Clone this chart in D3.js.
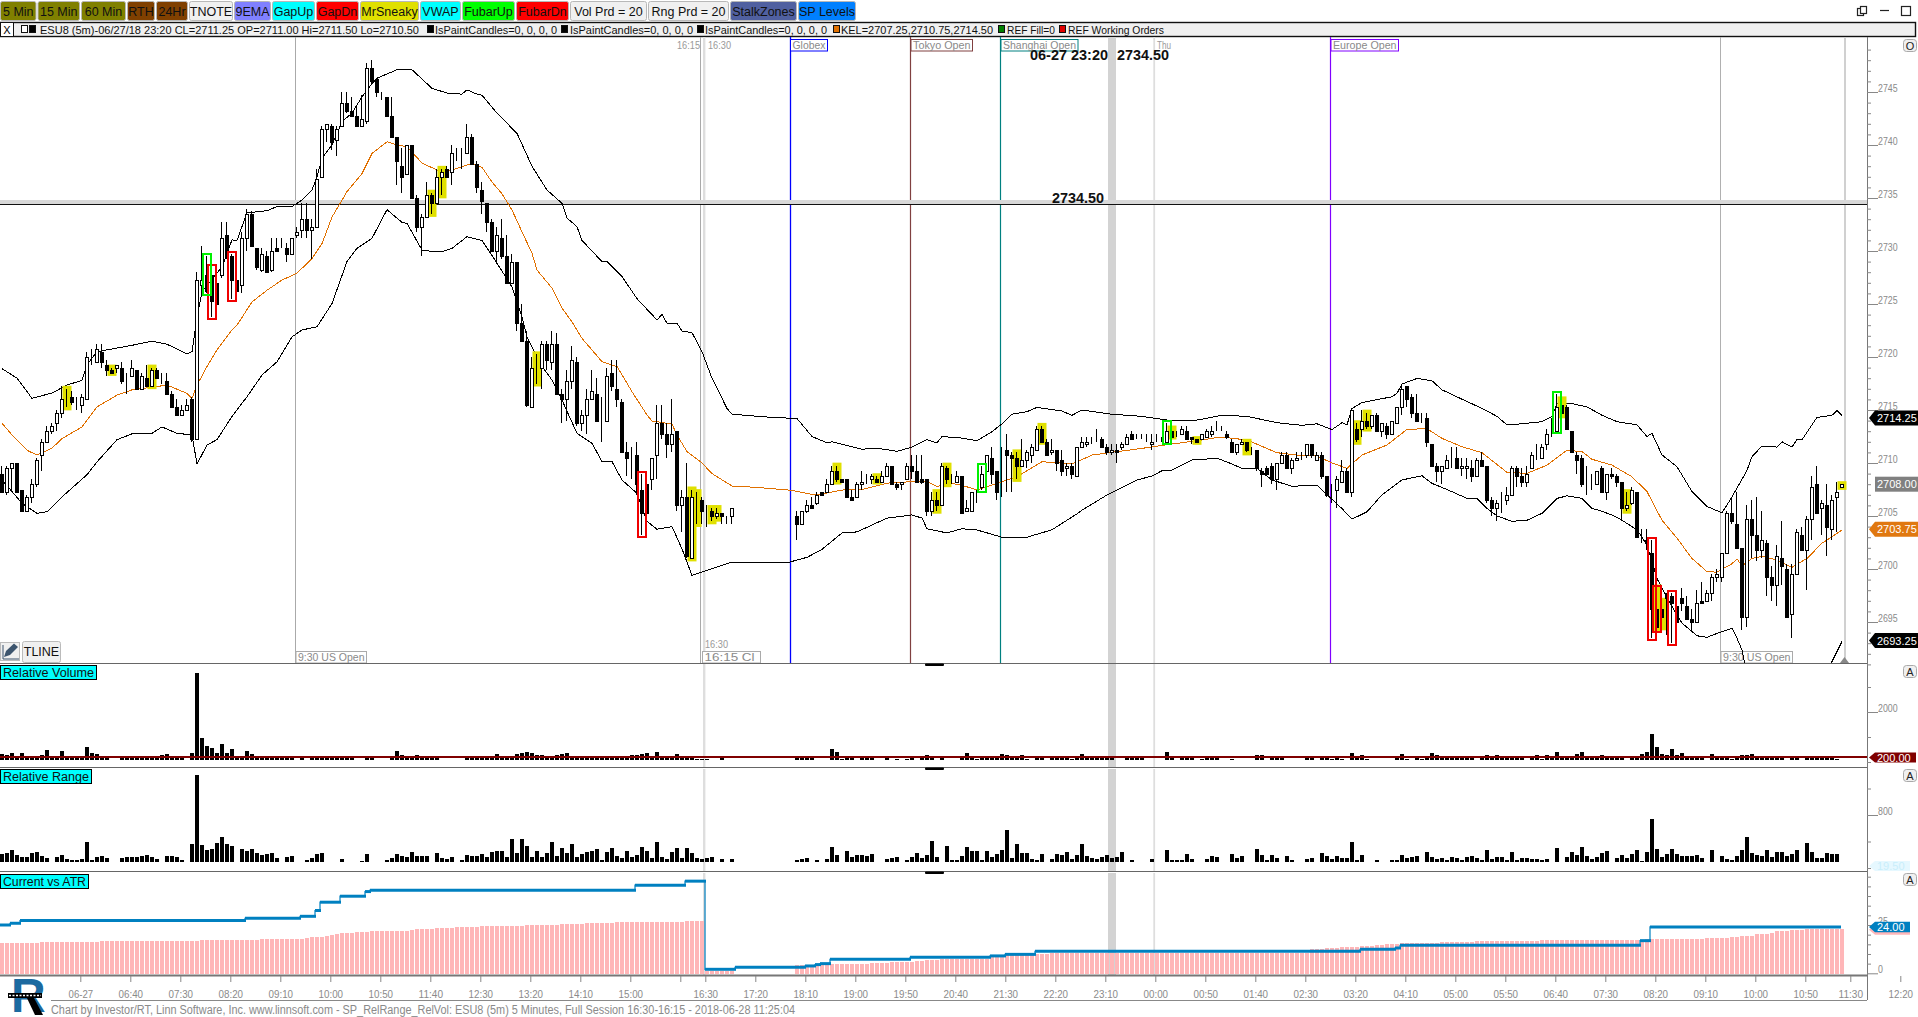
<!DOCTYPE html>
<html><head><meta charset="utf-8">
<script src="https://cdn.jsdelivr.net/npm/d3@7/dist/d3.min.js"></script>
<style>html,body{margin:0;padding:0;background:#fff;overflow:hidden}svg{position:absolute;left:0;top:0;display:block}text{font-family:"Liberation Sans",Arial,sans-serif}</style>
</head><body><svg id="c" width="1918" height="1017"></svg>
<script>
// ---------- DATA ----------
// [open, high, low, close] per 5 minute bar, null where no bar was traded
const candles=[
[2709,2709.75,2707.25,2707.25],[2707.25,2709.75,2707,2709.5],[2709.5,2710,2707.25,2710],[2710,2710,2707.25,2707.25],[2707.5,2707.5,2705.5,2705.5],[2705.5,2707,2705.5,2706.75],[2706.75,2708.5,2706.25,2708],[2708,2710.5,2707.75,2710.25],[2710.75,2712.25,2709.25,2712],[2712,2713.5,2712,2713],
[2713,2713.75,2712.75,2713.5],[2713.75,2715,2713,2714.75],[2714.75,2717.25,2714.25,2716],[2716,2717,2715.25,2716],[2716.25,2716.75,2715.5,2715.75],[2715.5,2716.25,2715,2715.5],[2715.5,2716.5,2714.75,2716.25],[2716,2720.5,2716,2720],[2719.75,2720.75,2719.25,2719.75],[2719.5,2721.25,2719.5,2720.75],
[2720.5,2721.25,2719,2719.5],[2719.25,2719.75,2718.25,2718.75],[2718.75,2719,2718.5,2718.5],[2719,2719.25,2718.5,2719.25],[2719,2719.5,2717.5,2717.75],[2718,2718.5,2716.5,2718],[2718.25,2719.75,2718.25,2719],[2718.75,2718.75,2717,2717],[2717,2718.5,2717,2718.25],[2718,2719.25,2717.25,2717.25],
[2717.25,2719,2717.25,2718.75],[2718.75,2719,2718,2718],[2718,2718.5,2717.5,2718],[2717.75,2718.5,2716.5,2716.5],[2716.5,2716.75,2715.25,2715.25],[2715.25,2716,2714.5,2714.5],[2714.5,2715.5,2714.5,2715],[2715,2716,2715,2715.5],[2716,2716.25,2712,2712.25],[2712.25,2728,2712.25,2727.25],
[2726.75,2730.5,2726,2727.25],[2727.75,2729.5,2726,2726.25],[2727.75,2728.5,2723.75,2725.25],[2727,2728.5,2723.75,2725],[2727.75,2732.75,2727.5,2731.25],[2731.5,2732.75,2729.25,2729.5],[2729.5,2729.75,2725.5,2727.25],[2727.25,2728.5,2725.5,2726.25],[2726.75,2731.75,2726,2731.25],[2731.25,2734,2730,2733.5],
[2733.5,2733.75,2730.5,2730.5],[2730.25,2730.25,2728.25,2728.5],[2728.25,2730.25,2728,2729.75],[2729.5,2730,2728,2728],[2728.25,2731.25,2728,2730],[2730.25,2731.25,2730,2730],[2730.5,2731.25,2730.25,2730.5],[2730.25,2730.75,2729,2729.75],[2729.75,2731.25,2729.75,2731.25],[2731.5,2732.25,2731.25,2731.75],
[2732,2734.5,2731.25,2733],[2733,2734.5,2731.25,2732],[2732,2733,2729.25,2732.25],[2732.25,2737.75,2732.25,2736.75],[2737,2741.75,2737,2741.5],[2741.5,2742,2740.25,2742],[2741.75,2742,2739.5,2740.25],[2740.5,2741.75,2739,2741.5],[2741.75,2745,2741.75,2744],[2744,2745,2743,2743.25],
[2743.25,2744.5,2742.75,2742.75],[2742.75,2743.75,2741.75,2741.75],[2741.75,2744.75,2741.75,2742.5],[2742.25,2747.75,2742,2747.25],[2747.25,2748,2745.75,2746],[2746.25,2746.25,2744.5,2745],[2744.75,2745,2744.25,2744.75],[2744.5,2744.5,2742.75,2742.75],[2742.75,2744.5,2740.75,2740.75],[2740.75,2740.75,2736.25,2738.5],
[2738,2739.75,2735.5,2737],[2737.25,2740,2737.25,2740],[2740,2740,2735,2735],[2735,2735.25,2731.75,2732.25],[2732.25,2733.5,2729.5,2733.25],[2733.25,2736.5,2733.25,2735.25],[2735.25,2735.5,2733.5,2734.5],[2734.5,2737.75,2734.5,2737],[2737,2737.75,2735.25,2737.5],[2737.75,2738,2737,2737],
[2737.5,2740,2736.25,2739.25],[2739.25,2739.75,2738.5,2739.25],[2739.25,2739.75,2737.75,2739.25],[2739.25,2742,2739.25,2740.75],[2740.75,2741,2738.25,2738.25],[2738.25,2738.5,2735.5,2736],[2735.75,2736.5,2733.5,2734.75],[2734.5,2734.5,2731.75,2732.75],[2732.75,2733,2730,2730],[2730,2732.25,2728.75,2731.5],
[2731.25,2733,2729.25,2729.5],[2729.5,2731.5,2727,2727],[2727,2729.75,2727,2729],[2729,2729,2722.5,2723.25],[2723.25,2725,2721.5,2721.5],[2721.5,2722.5,2715.25,2715.5],[2715.25,2720,2715.25,2719],[2719.25,2720.25,2717.5,2719.25],[2719,2721.5,2717,2721.25],[2721.25,2721.5,2718.75,2719.75],
[2719.5,2722.5,2718.75,2721.25],[2721.25,2722.25,2716.5,2716.5],[2716.5,2717,2713.75,2716],[2716,2718.75,2714,2717.75],[2717.75,2721,2717,2719.75],[2719.5,2720,2713.5,2713.75],[2713.75,2715,2713,2714.5],[2714.5,2717,2712.75,2716],[2716,2718.75,2716,2716.75],[2716.5,2718,2714,2714],
[2713.75,2716.25,2712,2713.75],[2714,2719,2714,2718.25],[2718.5,2719.75,2716.75,2717.25],[2717,2719.75,2715.25,2716],[2715.75,2716,2711,2711],[2711,2712,2708.75,2710.5],[2710.5,2711.5,2708.5,2710.5],[2710.75,2712,2707,2708],[2707.5,2709,2703.25,2705.25],[2708,2708.5,2703.25,2705.25],
[2708.5,2710.5,2707.5,2710.5],[2710.75,2715.5,2708.5,2713.75],[2713.75,2715.5,2712.25,2712.75],[2712.75,2713.75,2710.5,2711.75],[2711.75,2716,2711,2712.75],[2713,2713,2705.5,2706],[2706,2707.5,2703.5,2706.75],[2706.75,2710,2701,2701.25],[2701,2707.5,2701,2706.75],[2707,2707.25,2704.25,2707],
[2706.5,2706.75,2704.25,2705.5],[2705.5,2706,2704,2705.5],[2705.5,2705.75,2704.5,2705],[2705,2705.75,2704.75,2705.25],[2705.25,2705.25,2704.25,2705],[2705,2705,2704.25,2705],[2705,2705.75,2704.25,2705.75],null,null,null,
null,null,null,null,null,null,null,null,null,[2705,2705.5,2702.75,2704.25],
[2704.25,2705.5,2704.25,2705.5],[2705.5,2706.5,2705.25,2706],[2706,2706.75,2705.75,2705.75],[2706.25,2707.25,2706,2707],[2707.25,2707.25,2707,2707],[2707.25,2708.5,2707.25,2708],[2708,2709.75,2708,2709.25],[2709.25,2709.75,2708.25,2708.5],[2708.5,2708.5,2708.25,2708.25],[2708.5,2708.5,2706.75,2706.75],
[2706.75,2707.5,2706.5,2706.5],[2706.75,2708.25,2706.75,2708],[2708,2709.25,2707.5,2708.25],[2708.5,2709,2708,2708.5],[2708.5,2709,2708,2708.75],[2708.5,2708.75,2708.25,2708.25],[2708.25,2709.25,2708.25,2708.75],[2708.75,2710,2708.75,2709.75],[2709.75,2709.75,2708,2708],[2708,2708.25,2707.5,2707.75],
[2708,2708.25,2707.5,2708.25],[2708.5,2710,2708.5,2709.75],[2709.75,2710.75,2708.5,2709.25],[2709.25,2710.75,2708.25,2708.25],[2708.5,2710.75,2708,2708.25],[2708.5,2708.5,2705,2705.5],[2705.5,2707.25,2705,2706.5],[2706.5,2707.25,2705.5,2706],[2706,2710,2706,2709.75],[2709.5,2709.75,2708,2708.5],
[2708.5,2709,2708,2708.5],[2708.25,2709.25,2708.25,2708.75],[2708.75,2708.75,2705.25,2705.25],[2705.5,2706.5,2705.5,2705.75],[2705.5,2707.25,2705.5,2707.25],[2707.5,2707.5,2706.25,2707.5],[2707.75,2709.75,2707.5,2709],[2709.25,2710.75,2708,2710.75],[2710.5,2711.5,2708,2709],[2709.25,2709.25,2706.5,2707.25],
[2711,2711.5,2706.75,2711],[2711.25,2712.75,2707.25,2710.75],[2710.75,2711,2707.25,2710.5],[2710.5,2711,2708.5,2709.75],[2709.75,2712.25,2709.75,2710.25],[2710.25,2711.25,2709.5,2711],[2710.75,2711.75,2710,2711.5],[2711.25,2713.5,2711.25,2713.25],[2713.25,2713.5,2712,2712],[2712,2712.25,2710.75,2710.75],
[2711,2712.25,2710.75,2711.25],[2711.25,2711.25,2709.25,2710],[2710.25,2711.25,2708.75,2709.25],[2709.5,2710,2708.75,2709.75],[2709.75,2710,2708.5,2709],[2708.75,2711.5,2708.75,2711.5],[2711.5,2712.5,2711.5,2712],[2711.75,2712.5,2711.5,2712],[2712,2712.5,2711.75,2712],[2712.25,2713.25,2712,2712.25],
[2712.25,2712.5,2711.5,2711.5],[2711.5,2711.75,2710.75,2711],[2711,2711.75,2710.75,2711.25],[2711.25,2711.75,2710,2711],[2711.5,2712,2711.25,2711.75],[2711.75,2712.75,2711.75,2712.5],[2712.75,2713,2712.25,2712.25],[2712.25,2712.75,2712.25,2712.25],[2712.25,2712.75,2712.25,2712.25],[2712.25,2712.75,2712,2712.25],
[2711.75,2712.75,2711.25,2712],[2712.25,2712.75,2712,2712.25],[2712.25,2712.5,2712,2712.25],[2712,2713.75,2712,2713],[2713,2713.25,2712.5,2712.5],[2712.75,2713,2712.5,2712.75],[2712.75,2713.5,2712.75,2713.25],[2713,2713.5,2712.25,2712.25],[2712.5,2712.5,2711.75,2712.25],[2712.25,2712.25,2712,2712],
[2712.25,2712.75,2712.25,2712.75],[2712.5,2713.25,2712.5,2713],[2712.75,2713.5,2712.5,2713],[2713.25,2714,2713,2713.25],[2713.25,2713.5,2713,2713.25],[2712.75,2713,2712.25,2712.5],[2712,2712.25,2711,2711],[2711,2711.75,2710.75,2711.75],[2711.75,2712.25,2711.75,2712],[2712,2712,2711,2711.25],
[2711,2711.5,2710.75,2711],[2711.25,2711.25,2709.25,2709.5],[2709.25,2709.5,2707.75,2709],[2709.5,2709.75,2708.75,2709],[2709.75,2710,2708,2708.5],[2708.5,2710,2707.5,2710],[2710,2711,2710,2710.75],[2710.75,2711,2709.5,2709.5],[2709.5,2710.5,2709,2710.25],[2710.25,2711,2710.25,2710.5],
[2710.75,2711,2710.25,2710.75],[2710.75,2711.75,2710.5,2711.75],[2711.75,2711.75,2710.5,2710.75],[2710.25,2711,2710.25,2710.75],[2710.75,2711,2708.5,2708.75],[2708.75,2708.75,2706.75,2707],[2707.5,2708,2706.25,2707.5],[2707.5,2708.75,2705.75,2708.5],[2708.25,2710.25,2708.25,2709.25],[2709.25,2709.5,2707.25,2707.25],
[2707.25,2715,2706.75,2715],[2713.25,2713.75,2712,2712.25],[2713.25,2715,2712.5,2714],[2714,2714.75,2713.25,2713.5],[2713.5,2714.5,2713.25,2714.5],[2714.5,2714.75,2713,2713],[2713,2713.75,2712.5,2713.75],[2713.5,2713.75,2712.25,2712.75],[2712.75,2714,2712.75,2714],[2713.75,2715.25,2713.75,2715.25],
[2715.25,2717.5,2714.5,2717],[2717.25,2717.25,2715.25,2716],[2716.25,2716.5,2714.25,2714.75],[2714.75,2716.5,2714,2714],[2714,2714.75,2713.75,2714],[2714.25,2714.75,2711.5,2712],[2711.75,2711.75,2709.75,2709.75],[2709.75,2710,2708.25,2709.25],[2709.25,2709.75,2708,2709.75],[2709.5,2710.75,2709.5,2710.25],
[2710.5,2711.5,2709.5,2710.5],[2710.5,2711.5,2709.5,2709.5],[2709.5,2710.5,2708.75,2709.75],[2709.5,2710.5,2708.5,2709.75],[2709.5,2710.25,2708.25,2708.75],[2708.75,2710.5,2708.75,2710.25],[2710.25,2711,2709.75,2709.75],[2709.75,2709.75,2706.25,2706.5],[2706.5,2706.75,2705,2705.75],[2705.75,2706.5,2704.5,2706.25],
[2706.5,2707.25,2705.25,2706.5],[2706.5,2707.75,2706,2707],[2707,2709.75,2707,2709.5],[2709.5,2709.75,2707.75,2708.75],[2708.75,2709.5,2707.75,2708.25],[2708.25,2709.75,2707.75,2709],[2709.5,2711,2709.5,2710.75],[2710.5,2711.75,2710.25,2710.5],[2710.5,2711.75,2710.5,2711.5],[2711.75,2713.25,2711.25,2712.75],
[2714,2714.25,2712.5,2714],[2713,2716.5,2713,2715.25],[2715.5,2716,2714.5,2714.75],[2715.25,2715.5,2713.25,2713.25],[2713,2713,2711,2711],[2710.75,2711,2709,2710.25],[2710.5,2710.75,2707.75,2708],[2708.25,2709.75,2707,2708.25],[2708.25,2709,2707.5,2708.25],[2708,2709.25,2708,2709.25],
[2709.5,2709.75,2707.25,2707.25],[2707.25,2709,2706.5,2709],[2709,2709.5,2708.5,2708.75],[2708.75,2709,2707.75,2708.25],[2708.25,2708.25,2704.75,2705.75],[2705.75,2707.25,2705.5,2706],[2706.25,2707.75,2706,2707.5],[2707.25,2707.25,2703,2703],[2702.75,2703.75,2702.5,2702.75],[2702.75,2703.75,2701.75,2702.5],
[2701.5,2702.75,2693.5,2696.25],[2696.25,2698.25,2694.25,2694.5],[2696.25,2697,2694.5,2695.5],[2697.5,2697.75,2693.75,2697.25],[2697.5,2697.75,2693,2696.75],[2696.5,2697.75,2695,2695],[2697.25,2698.25,2696,2696.75],[2696.5,2697.5,2695.25,2695.25],[2695.25,2696.25,2694.25,2695],[2695,2698,2695,2696.75],
[2697,2698.75,2696.75,2696.75],[2697,2698,2697,2697.75],[2697.75,2699.5,2697,2699.25],[2699.25,2700,2698.75,2699.5],[2699.25,2701.5,2698.75,2701.5],[2701.5,2705.5,2701.5,2705.25],[2705.25,2706.75,2704.25,2704.5],[2704.25,2707.25,2702,2702],[2702,2702,2694.25,2695.5],[2695.5,2706,2694.5,2704.75],
[2704.75,2706.5,2701,2703.25],[2703.25,2706.75,2700.75,2701.75],[2701.75,2705.5,2701,2702.75],[2702.5,2702.75,2697.5,2699.25],[2699.25,2700.25,2697,2698.5],[2698.5,2702.25,2696.5,2701.25],[2701,2704.5,2698.5,2700.25],[2700,2700.5,2695.5,2695.5],[2695.75,2700.5,2693.5,2699.5],[2699.5,2703.75,2699.5,2703.5],
[2703.25,2704,2701.75,2701.75],[2701.75,2705,2698,2704.75],[2704.75,2708.75,2702.75,2707.75],[2708,2709.75,2705.25,2705.25],[2705.75,2706.5,2703.25,2706.25],[2706,2708,2701.25,2704],[2703.75,2707,2702.75,2706.5],[2706.75,2708.25,2703.5,2707.25],[2707.75,2708,2707.75,2708]
];
const yellowBars=[13,22,30,86,88,107,138,139,142,143,167,175,187,189,203,208,234,239,249,271,273,312,325,331,332,368];
const redBars=[42,46,128,330,331,334];
const greenBars=[41,196,233,311];
// [bar, price] vertices
const upperBand=[[0,2718.9],[3,2718],[6,2716.1],[10,2716.6],[13,2717.35],[16,2717.8],[17,2719.25],[19,2720.5],[26,2721.1],[30,2721.5],[33,2721.2],[37,2720.3],[38,2720.5],[39,2723.8],[40,2726.15],[44,2728.5],[46,2731.05],[47,2731],[49,2733.6],[53,2733.8],[55,2734.2],[58,2734.2],[60,2734.8],[62,2735.75],[63,2737],[64,2738.75],[66,2740],[68,2742.2],[70,2743],[72,2744.55],[74,2745.8],[75,2746.3],[79,2747.1],[82,2747.1],[86,2745.35],[89,2744.9],[92,2744.8],[93,2745.2],[95,2744.8],[96,2744.7],[99,2743],[103,2741.1],[106,2738],[109,2735.75],[112,2734.5],[113,2733.1],[115,2732.3],[116,2731],[120,2729],[121,2729],[124,2727.6],[127,2725.5],[131,2723.5],[132,2724],[133,2723.2],[135,2723.2],[136,2722.45],[138,2722.3],[140,2720.5],[142,2718],[145,2715.15],[146,2714.6],[154,2714.3],[159,2714.2],[162,2712.5],[165,2711.9],[166,2712],[172,2711.3],[175,2711.4],[179,2711.1],[182,2711.5],[185,2712.2],[187,2711.9],[188,2712.5],[192,2712.35],[195,2712.1],[198,2712.95],[200,2713.7],[202,2714.6],[205,2714.84],[207,2715.25],[212,2714.9],[214,2714.5],[216,2715],[222,2714.6],[228,2714.4],[233,2714.05],[239,2714.05],[244,2714.5],[249,2714.4],[255,2713.8],[260,2713.55],[263,2713.7],[266,2713.15],[268,2713.8],[269,2713.6],[270,2715.15],[272,2715.7],[278,2716.25],[279,2716.57],[280,2717.45],[283,2717.98],[286,2717.76],[288,2716.9],[293,2715.8],[296,2715.15],[299,2714.4],[301,2713.6],[304,2713.7],[308,2713.9],[310,2714.4],[311,2715.6],[314,2715.6],[317,2715.3],[320,2714.5],[323,2713.9],[327,2713.6],[329,2712.5],[330,2712.8],[332,2710.76],[335,2709.65],[338,2707.3],[341,2705.9],[344,2705.3],[346,2706.8],[349,2709.3],[350,2710.6],[352,2711.6],[355,2711.5],[356,2712],[358,2711.5],[359,2712.2],[360,2712.2],[363,2714.3],[366,2714.5],[367,2714.94],[368,2714.5]];
const lowerBand=[[0,2708.4],[2,2707.3],[4,2706.2],[7,2705.25],[9,2705.4],[12,2706.8],[17,2708.9],[19,2710.1],[23,2712.2],[26,2712.75],[30,2712.8],[32,2713.4],[35,2712.8],[38,2712.65],[39,2709.9],[41,2711.7],[43,2712.2],[46,2714.4],[49,2716.25],[52,2718.3],[55,2719.55],[58,2721.9],[60,2722.55],[63,2722.85],[66,2725.05],[69,2729],[71,2730.25],[74,2731.2],[77,2733.9],[80,2732.7],[81,2732.6],[84,2730.1],[86,2729.95],[88,2729.95],[90,2730.25],[93,2731.35],[96,2731],[99,2728.85],[102,2726.6],[104,2723.8],[105,2721.9],[108,2719.1],[110,2717.83],[112,2715.94],[115,2712.8],[118,2711.86],[120,2710.13],[122,2710.13],[124,2708.4],[127,2707.14],[129,2704.5],[131,2703.75],[134,2704],[136,2701.9],[138,2699.4],[146,2700.66],[157,2700.57],[159,2700.85],[161,2701.1],[164,2701.85],[168,2703.4],[171,2703.5],[177,2704.8],[182,2705.1],[184,2704.8],[185,2703.8],[189,2703.4],[192,2703.8],[195,2703.68],[200,2703],[205,2703],[210,2703.7],[215,2705.2],[216,2705.56],[221,2706.98],[227,2708.4],[230,2708.77],[232,2709.27],[234,2709.34],[238,2710.28],[243,2710.44],[245,2710.1],[248,2709.5],[251,2709.5],[254,2708.4],[256,2708.1],[258,2707.8],[260,2707.85],[263,2707.9],[266,2706.57],[268,2705.7],[270,2704.7],[273,2705.4],[276,2707],[280,2708.4],[284,2708.8],[286,2708.08],[289,2707.5],[293,2706.66],[295,2706.66],[297,2705.72],[299,2705],[302,2704.5],[305,2704.6],[308,2705.25],[311,2706.66],[313,2706.9],[316,2706.66],[318,2705.7],[319,2705.6],[322,2705.1],[324,2704.6],[327,2703.7],[329,2702.27],[331,2699.1],[334,2696.45],[336,2694.9],[339,2693.7],[341,2693.56],[344,2694.1],[346,2694.4],[347,2693.46],[348,2692.36],[349,2690],[350,2689],[362,2689],[365,2690.5],[366,2691.26],[368,2693.15]];
const emaLine=[[0,2713.75],[2,2712.65],[5,2711.2],[7,2710.75],[10,2711.4],[12,2712.3],[16,2713.4],[19,2715.3],[23,2716.4],[26,2716.9],[30,2717.15],[33,2717.35],[37,2716.57],[38,2716.1],[39,2717.35],[41,2719.1],[43,2720.66],[46,2722.55],[47,2723],[50,2725.2],[53,2726.3],[56,2727.26],[59,2727.9],[62,2729.3],[64,2730.7],[66,2733.2],[69,2735.6],[72,2737.3],[74,2739.2],[77,2740.3],[79,2740],[81,2739.84],[84,2738.3],[87,2737.64],[90,2737.64],[94,2738.27],[96,2737.9],[98,2736.5],[100,2735.4],[102,2733.87],[104,2731.8],[106,2729.8],[107,2728.2],[110,2726.5],[112,2724.6],[114,2723.33],[116,2721.76],[118,2720.66],[120,2719.56],[123,2719.1],[126,2716.73],[129,2714.53],[130,2713.96],[134,2713.68],[135,2712.64],[137,2711.07],[140,2710],[142,2709],[146,2707.83],[151,2707.7],[158,2707.42],[162,2707.04],[164,2707.07],[168,2707.45],[172,2707.5],[177,2708.1],[182,2708.24],[185,2708.24],[187,2707.8],[190,2708.08],[192,2707.9],[195,2707.45],[199,2708.08],[203,2708.7],[208,2710.12],[212,2710],[214,2709.9],[218,2710.75],[223,2711.07],[228,2711.38],[234,2711.79],[239,2712.1],[243,2712.4],[245,2712.39],[249,2712.17],[255,2710.97],[260,2710.7],[263,2710.66],[266,2710],[269,2709.5],[272,2710.75],[277,2711.7],[281,2713.17],[285,2713.24],[288,2712.32],[292,2711.54],[296,2710.97],[301,2709.12],[305,2709.02],[309,2709.8],[313,2711.2],[316,2711.07],[318,2710.35],[322,2709.8],[326,2708.7],[329,2707.3],[332,2704.6],[335,2702.9],[338,2701],[341,2699.75],[343,2699.7],[346,2700.5],[347,2700.95],[348,2700.3],[350,2701],[352,2701.2],[355,2700.85],[358,2700.16],[361,2701],[364,2702.43],[368,2703.68]];
const relVolume=[
317,291,344,212,344,212,212,212,278,463,
212,212,423,212,212,212,212,595,344,304,
212,212,0,0,212,212,212,185,212,212,
212,212,278,317,212,145,145,0,344,3571,
952,635,556,344,714,370,516,212,212,423,
304,212,212,212,212,212,185,212,145,0,
145,0,145,145,212,212,145,212,145,185,
145,0,0,185,145,0,0,0,212,437,
278,212,212,265,212,212,185,212,0,0,
0,0,0,145,185,212,212,212,212,304,
212,212,212,304,370,384,370,278,278,212,
212,278,317,344,212,212,185,212,212,212,
212,212,185,212,212,212,265,265,317,357,
212,397,212,212,212,317,212,212,212,132,
132,132,0,0,212,0,0,0,0,0,
0,0,0,0,0,0,0,0,0,212,
212,212,212,0,0,0,516,410,132,212,
212,0,145,145,185,0,0,212,0,132,
0,132,185,0,212,278,212,0,212,0,
0,0,212,357,212,132,212,212,212,212,
317,278,212,212,278,119,0,185,185,0,
212,212,212,212,132,212,317,212,212,212,
145,145,185,0,0,185,185,185,145,0,
0,0,0,397,185,0,212,212,212,0,
132,185,185,185,0,0,119,0,0,0,
0,278,278,0,212,212,212,0,0,0,
0,212,212,0,212,212,132,212,132,0,
357,238,278,132,0,0,0,0,0,185,
317,119,0,185,132,212,357,278,212,212,
212,212,145,212,145,0,212,278,212,278,
212,212,212,145,212,0,212,278,132,278,
212,397,212,212,212,317,397,212,212,212,
265,185,145,145,145,0,185,212,304,384,
1111,595,317,278,516,278,344,185,185,185,
185,0,317,212,212,185,132,185,278,278,
317,185,185,185,185,185,185,0,185,185,
0,185,185,185,145,185,185,132,0];
const relRange=[
205,220,270,195,170,170,220,235,180,145,
0,170,195,135,120,120,135,390,120,170,
180,145,0,0,145,160,160,170,180,195,
160,130,0,180,180,160,120,0,360,1398,
345,270,285,380,465,360,330,0,285,260,
285,220,195,205,220,145,0,160,180,0,
0,120,145,205,220,0,0,0,135,0,
0,0,105,210,0,0,0,120,145,210,
180,170,235,185,180,180,0,220,145,135,
160,0,120,195,185,180,205,170,245,255,
255,170,445,220,435,330,170,255,160,220,
390,180,295,220,355,160,210,240,255,280,
120,245,295,185,145,255,170,195,315,255,
150,390,165,135,240,300,150,300,225,150,
135,150,160,0,135,0,135,0,0,0,
0,0,0,0,0,0,0,0,0,120,
135,150,0,120,0,135,315,195,0,255,
165,195,195,180,210,0,0,135,150,165,
0,120,165,225,150,195,405,165,0,330,
120,120,180,315,255,255,120,255,165,210,
270,570,150,360,225,225,135,120,210,0,
135,210,195,240,135,195,360,180,150,135,
165,195,150,165,240,0,120,0,0,0,
135,0,0,270,120,120,120,210,135,0,
0,135,180,165,0,0,210,150,180,0,
0,285,195,120,195,150,0,180,120,0,
0,135,150,0,225,180,135,180,150,150,
390,120,195,0,0,120,0,0,120,120,
195,150,165,180,0,240,165,135,150,120,
165,150,120,165,180,150,120,270,135,165,
165,120,240,120,150,150,135,135,120,135,
0,300,0,165,240,195,315,180,135,165,
220,255,0,145,195,145,210,270,105,240,
735,285,160,210,285,210,180,180,180,195,
145,0,270,0,180,135,120,180,270,465,
225,195,180,270,160,240,240,180,210,270,
0,375,245,145,145,225,205,210,0];
// step series: value holds from its start bar to the next start
const atrStarts=[0,8,20,40,52,61,62,65,66,67,68,70,71,72,74,82,83,84,87,91,96,105,112,117,123,137,141,147,159,166,174,178,183,185,188,198,201,207,210,228,262,265,268,272,275,277,280,288,295,308,320,329,341,346,348,351,354,355,358,361];
const atrValues=[15.7,16.2,16.75,17.3,17.8,18.3,18.8,19.3,19.9,20.4,20.7,21,21.4,21.6,21.9,22.45,22.8,23,23.5,24,24.5,25,25.6,26.1,26.6,27.1,1,null,4.3,4.8,5.3,5.85,6.4,6.9,7.4,8.3,9.3,10,10.4,10.7,12.4,12.95,13.5,14,14.5,15,15.5,16.1,16.6,17.1,17.25,17.8,18.3,18.85,19.3,20.3,21,21.75,22.3,23];
const currentStarts=[0,2,4,49,60,63,64,68,73,74,127,137,141,147,161,163,164,166,182,198,201,207,272,279,280,328,330];
const currentValues=[25,25.9,27.3,28.5,29.5,32.5,36.8,39.9,42.3,43,45.6,47.7,2.07,3.1,3.8,4.5,5,7.25,8.3,9,9.8,11.4,12.4,13.1,14.5,16.9,24];
const timeTickBars=[16,26,36,46,56,66,76,86,96,106,116,126,136,141,151,161,171,181,191,201,211,221,231,241,251,261,271,281,291,301,311,321,331,341,351,361,370,380];
const timeTickLabels=["06-27","06:40","07:30","08:20","09:10","10:00","10:50","11:40","12:30","13:20","14:10","15:00","","16:30","17:20","18:10","19:00","19:50","20:40","21:30","22:20","23:10","00:00","00:50","01:40","02:30","03:20","04:10","05:00","05:50","06:40","07:30","08:20","09:10","10:00","10:50","11:30","12:20"];
const priceTicks=[2695,2700,2705,2710,2715,2720,2725,2730,2735,2740,2745];
const volTicks=[2000];
const rangeTicks=[800];
const atrTicks=[0,25];
const toolbarLabels=["5 Min","15 Min","60 Min","RTH","24Hr","TNOTE","9EMA","GapUp","GapDn","MrSneaky","VWAP","FubarUp","FubarDn","Vol Prd = 20","Rng Prd = 20","StalkZones","SP Levels"];
const toolbarColors=["#808000","#808000","#808000","#804000","#804000","#f0f0f0","#8080ff","#00ffff","#ff0000","#e0e000","#00ffff","#00ff00","#ff0000","#f0f0f0","#f0f0f0","#5060a0","#0080ff"];
const toolbarEdges=[0,37.5,81,127,156,189,234,272,316,360,420,462,516,570,648,730,798,857];
const priceFlags=[[2714.25,"#000000"],[2703.75,"#e07810"],[2693.25,"#000000"]];

// ---------- LAYOUT ----------
const svg=d3.select("#c");
const axisX=1867;
const x=d3.scaleLinear().domain([0,100]).range([2,502]);
const yP=d3.scaleLinear().domain([2715,2700]).range([410,569]);
const yV=d3.scaleLinear().domain([0,2000]).range([762,712]);
const yR=d3.scaleLinear().domain([0,800]).range([868,815]);
const yA=d3.scaleLinear().domain([0,25]).range([973.3,925]);
const px=v=>Math.round(v);

svg.append("rect").attr("width",1918).attr("height",1017).attr("fill","#fff");
const defs=svg.append("defs");
defs.append("clipPath").attr("id","mainClip").append("rect").attr("x",0).attr("y",37).attr("width",axisX).attr("height",626);

// toolbar
const tb=svg.append("g");
toolbarLabels.forEach((t,i)=>{
  const x0=toolbarEdges[i],x1=toolbarEdges[i+1]-1;
  tb.append("rect").attr("x",x0+.5).attr("y",1.5).attr("width",x1-x0-1).attr("height",19).attr("rx",2).attr("fill",toolbarColors[i]).attr("stroke","#b8b8b8");
  tb.append("text").attr("x",(x0+x1)/2).attr("y",15.5).attr("text-anchor","middle").attr("font-size",12.5).attr("fill","#111").text(t);
});
// window controls
const wc=svg.append("g").attr("fill","none").attr("stroke","#222").attr("stroke-width",1.2);
wc.append("rect").attr("x",1857.5).attr("y",8.5).attr("width",6).attr("height",7);
wc.append("rect").attr("x",1860.5).attr("y",6.5).attr("width",6).attr("height",7).attr("fill","#fff");
wc.append("line").attr("x1",1880).attr("x2",1889).attr("y1",10.5).attr("y2",10.5);
wc.append("rect").attr("x",1901.5).attr("y",6.5).attr("width",9).attr("height",9);

// info bar
svg.append("rect").attr("x",0.5).attr("y",22.5).attr("width",1915).attr("height",14).attr("fill","#f0f0f0").attr("stroke","#111").attr("stroke-width",1.4);
svg.append("rect").attr("x",0.5).attr("y",22.5).attr("width",13).attr("height",14).attr("fill","#fff").attr("stroke","#111");
svg.append("text").attr("x",7).attr("y",33.5).attr("text-anchor","middle").attr("font-size",11).text("X");
const infoSquares=[[21,"#fff"],[29,"#000"],[427,"#000"],[561,"#000"],[697,"#000"],[833,"#e07000"],[998,"#008000"],[1059,"#e00000"]];
infoSquares.forEach(([a,c])=>svg.append("rect").attr("x",a+.5).attr("y",25.5).attr("width",6).attr("height",7).attr("fill",c).attr("stroke","#111"));
const infoTexts=[[40,379,"ESU8 (5m)-06/27/18 23:20 CL=2711.25 OP=2711.00 Hi=2711.50 Lo=2710.50"],[435,122,"IsPaintCandles=0, 0, 0, 0"],[570,123,"IsPaintCandles=0, 0, 0, 0"],[705,122,"IsPaintCandles=0, 0, 0, 0"],[841,152,"KEL=2707.25,2710.75,2714.50"],[1007,48,"REF Fill=0"],[1068,96,"REF Working Orders"]];
infoTexts.forEach(([a,w,t])=>svg.append("text").attr("x",a).attr("y",33.5).attr("font-size",11.5).attr("textLength",w).attr("lengthAdjust","spacingAndGlyphs").attr("fill","#111").text(t));

// vertical markers through every pane
const bandPanes=[[663,767],[768,871],[872,976]];
[[703,2.4,"#dedede"],[1108,8,"#d3d3d3"],[1153.3,1.8,"#dedede"]].forEach(([a,w,c])=>{
  svg.append("rect").attr("x",a).attr("y",37).attr("width",w).attr("height",626).attr("fill",c);
  bandPanes.forEach(([t,b])=>svg.append("rect").attr("x",a).attr("y",t+1).attr("width",w).attr("height",b-t-1).attr("fill",c));
});
svg.append("rect").attr("x",1844).attr("y",37).attr("width",2).attr("height",626).attr("fill","#d0d0d0");
[[295.5,"#aaaaaa",1],[700.5,"#aaaaaa",1],[1720.5,"#b0b0b0",1],[790.5,"#0000ff",1.3],[910.5,"#804040",1.2],[1000.5,"#008080",1.2],[1330.5,"#8000ff",1.2]].forEach(([a,c,w])=>
  svg.append("line").attr("x1",a).attr("x2",a).attr("y1",37).attr("y2",663).attr("stroke",c).attr("stroke-width",w));
svg.append("path").attr("d","M1840 663L1844.5 657L1849 663Z").attr("fill","#888");

// session labels
function box(a,b,t,text,c,tw){
  svg.append("rect").attr("x",a+.5).attr("y",t+.5).attr("width",b-a-1).attr("height",11.5).attr("fill","#fff").attr("stroke",c);
  svg.append("text").attr("x",a+2.5).attr("y",t+10).attr("font-size",tw?10.5:11).attr("fill","#8a8a8a").attr("textLength",tw||b-a-5).attr("lengthAdjust","spacingAndGlyphs").text(text);
}
box(790,828,39,"Globex","#0000ff");
box(910.5,973,39,"Tokyo Open","#804040");
box(1000.5,1078.5,39,"Shanghai Open","#008080");
box(1330.5,1399,39,"Europe Open","#8000ff");
box(295.5,367,651,"9:30 US Open","#aaaaaa");
box(1720.5,1793,651,"9:30 US Open","#aaaaaa");
box(702,761,651,"16:15 Cl","#aaaaaa",50);
const lightLabels=[[677,"16:15",46,23],[708,"16:30",46,23],[1157,"Thu",46,14],[705,"16:30",645,23]];
lightLabels.forEach(([a,t,b,w])=>svg.append("text").attr("x",a).attr("y",b+3).attr("font-size",10.5).attr("fill","#999").attr("textLength",w).attr("lengthAdjust","spacingAndGlyphs").text(t));

// crosshair
svg.append("rect").attr("x",0).attr("y",200).attr("width",axisX).attr("height",4).attr("fill","#d8d8d8");
svg.append("line").attr("x1",0).attr("x2",axisX).attr("y1",204.5).attr("y2",204.5).attr("stroke","#111").attr("stroke-width",1);

// main pane marks
const main=svg.append("g").attr("clip-path","url(#mainClip)");
const lineP=d3.line().x(d=>x(d[0])).y(d=>yP(d[1]));
main.append("path").attr("d",lineP(upperBand)).attr("fill","none").attr("stroke","#000").attr("stroke-width",1).attr("shape-rendering","crispEdges");
main.append("path").attr("d",lineP(lowerBand)).attr("fill","none").attr("stroke","#000").attr("stroke-width",1).attr("shape-rendering","crispEdges");
main.append("path").attr("d",lineP(emaLine)).attr("fill","none").attr("stroke","#e07000").attr("stroke-width",1).attr("shape-rendering","crispEdges");
main.append("g").selectAll("rect").data(yellowBars).join("rect")
  .attr("x",i=>x(i)-4.5).attr("width",9)
  .attr("y",i=>yP(candles[i][1])-3).attr("height",i=>yP(candles[i][2])-yP(candles[i][1])+6)
  .attr("fill","#e0e000");
const cg=main.append("g").attr("shape-rendering","crispEdges");
const live=candles.map((c,i)=>c?{i,o:c[0],h:c[1],l:c[2],c:c[3]}:null).filter(Boolean);
cg.selectAll("line").data(live).join("line")
  .attr("x1",d=>x(d.i)-.5).attr("x2",d=>x(d.i)-.5)
  .attr("y1",d=>yP(d.h)).attr("y2",d=>yP(d.l)).attr("stroke","#000");
cg.selectAll("rect").data(live).join("rect")
  .attr("x",d=>x(d.i)-1.5).attr("width",3)
  .attr("y",d=>px(yP(Math.max(d.o,d.c)))+.5)
  .attr("height",d=>Math.max(0,px(yP(Math.min(d.o,d.c)))-px(yP(Math.max(d.o,d.c)))))
  .attr("fill",d=>d.c>=d.o?"#fff":"#000").attr("stroke","#000");
function outline(list,col){
  main.append("g").attr("shape-rendering","crispEdges").selectAll("rect").data(list).join("rect")
   .attr("x",i=>x(i)-4).attr("width",8)
   .attr("y",i=>yP(candles[i][1])-2).attr("height",i=>yP(candles[i][2])-yP(candles[i][1])+4)
   .attr("fill","none").attr("stroke",col).attr("stroke-width",2);
}
outline(redBars,"#f00000");
outline(greenBars,"#00f000");

// bold crosshair read-outs
const bold=(a,b,t,w)=>svg.append("text").attr("x",a).attr("y",b).attr("font-size",14).attr("font-weight","bold").attr("fill","#111").attr("textLength",w).attr("lengthAdjust","spacingAndGlyphs").text(t);
bold(1030,60,"06-27 23:20",78);
bold(1117,60,"2734.50",52);
bold(1052,203,"2734.50",52);

// relative volume pane
svg.append("g").selectAll("rect").data(relVolume.map((v,i)=>({v,i})).filter(d=>d.v>0)).join("rect")
  .attr("shape-rendering","crispEdges")
  .attr("x",d=>x(d.i)-2).attr("width",4)
  .attr("y",d=>yV(d.v)).attr("height",d=>Math.max(0,760-yV(d.v))).attr("fill","#000");
svg.append("line").attr("x1",0).attr("x2",axisX).attr("y1",yV(200)).attr("y2",yV(200)).attr("stroke","#800000").attr("stroke-width",2);

// relative range pane
svg.append("g").selectAll("rect").data(relRange.map((v,i)=>({v,i})).filter(d=>d.v>0)).join("rect")
  .attr("shape-rendering","crispEdges")
  .attr("x",d=>x(d.i)-2).attr("width",4)
  .attr("y",d=>yR(d.v)).attr("height",d=>Math.max(1,862-yR(d.v))).attr("fill","#000");

// ATR pane
const atrBars=[];
atrStarts.forEach((s,k)=>{
  const e=k<atrStarts.length-1?atrStarts[k+1]:369;
  if(atrValues[k]!==null) for(let i=s;i<e;i++) atrBars.push({i,v:atrValues[k]});
});
svg.append("g").selectAll("rect").data(atrBars).join("rect")
  .attr("shape-rendering","crispEdges")
  .attr("x",d=>x(d.i)-2).attr("width",4)
  .attr("y",d=>yA(d.v)).attr("height",d=>974-yA(d.v)).attr("fill","#ffb6b8");
const stepPts=currentStarts.map((s,k)=>[s,currentValues[k]]);
stepPts.push([368,24]);
svg.append("path").attr("d",d3.line().curve(d3.curveStepAfter).x(d=>x(d[0])-2).y(d=>yA(d[1]))(stepPts)).attr("fill","none").attr("stroke","#0080c0").attr("stroke-width",1.2);
svg.append("g").selectAll("line").data(currentStarts).join("line")
  .attr("x1",s=>x(s)-2)
  .attr("x2",(s,k)=>x(k<currentStarts.length-1?currentStarts[k+1]:368)-1)
  .attr("y1",(s,k)=>yA(currentValues[k])).attr("y2",(s,k)=>yA(currentValues[k]))
  .attr("stroke","#0080c0").attr("stroke-width",3);

// pane rules
[[663],[767],[871]].forEach(([b])=>svg.append("line").attr("x1",0).attr("x2",axisX).attr("y1",b+.5).attr("y2",b+.5).attr("stroke","#666").attr("stroke-width",1));
svg.append("line").attr("x1",0).attr("x2",axisX).attr("y1",975.5).attr("y2",975.5).attr("stroke","#777").attr("stroke-width",2);
svg.append("line").attr("x1",51).attr("x2",axisX).attr("y1",1000.5).attr("y2",1000.5).attr("stroke","#888");
svg.append("line").attr("x1",axisX+.5).attr("x2",axisX+.5).attr("y1",37).attr("y2",1000).attr("stroke","#777");
[663,767,871].forEach(b=>svg.append("rect").attr("x",925).attr("y",b+.5).attr("width",19).attr("height",2.5).attr("rx",1).attr("fill","#000"));

// axes through d3
function styleAxis(g,size){
  g.select(".domain").remove();
  g.selectAll("line").attr("stroke","#888");
  g.selectAll("text").attr("fill","#8a8a8a").attr("font-size",size).each(function(){
    const t=this.textContent; if(t) d3.select(this).attr("textLength",t.length*4.9).attr("lengthAdjust","spacingAndGlyphs");
  });
}
function rightAxis(scale,majors,minors){
  const a=svg.append("g").attr("transform",`translate(${axisX},0)`).call(d3.axisRight(scale).tickValues(minors).tickSize(4).tickFormat(""));
  styleAxis(a,10);
  const b=svg.append("g").attr("transform",`translate(${axisX},0)`).call(d3.axisRight(scale).tickValues(majors).tickSize(11).tickPadding(0).tickFormat(d3.format("d")));
  styleAxis(b,11);
  b.selectAll("text").attr("x",11).attr("dy",0).attr("y",-0.5);
}
const priceMinor=d3.range(2691,2750);
rightAxis(yP,priceTicks,priceMinor);
rightAxis(yV,volTicks,[0,1000,3000]);
rightAxis(yR,rangeTicks,[0,400,1200]);
rightAxis(yA,atrTicks,[5,10,15,20,30,35,40,45,50]);
const xt=svg.append("g").attr("transform","translate(0,976)").call(
  d3.axisBottom(d3.scaleLinear().domain([0,100]).range([0.3,500.3])).tickValues(timeTickBars).tickSize(6).tickPadding(5)
    .tickFormat(b=>timeTickLabels[timeTickBars.indexOf(b)]));
styleAxis(xt,11);
xt.selectAll("text").attr("dy",0).attr("y",21.5);

// axis flags
function flag(yc,txt,col,tipX,rightX,h,tc){
  const t=yc-h/2,b=yc+h/2;
  svg.append("path").attr("d",`M${tipX} ${yc}L${tipX+6} ${t}H${rightX}V${b}H${tipX+6}Z`).attr("fill",col);
  if(txt) svg.append("text").attr("x",tipX+8).attr("y",yc+4).attr("font-size",11).attr("fill",tc).text(txt);
}
priceFlags.forEach(([p,c])=>flag(yP(p),d3.format(".2f")(p),c,1869,1918,15,"#fff"));
svg.append("rect").attr("x",1875).attr("y",yP(2708)-7.5).attr("width",43).attr("height",15).attr("fill","#808080");
svg.append("text").attr("x",1877).attr("y",yP(2708)+4).attr("font-size",11).attr("fill","#fff").text("2708.00");
flag(yV(200)+.5,"200.00","#800000",1869,1916,10,"#fff");
flag(866,"19.50","#e6f8ff",1869,1910,10,"#c9eefb");
flag(yA(22.5),"","#ffb6b8",1869,1910,10);
flag(yA(24),"24.00","#0080c0",1869,1910,10.5,"#fff");

// pane titles
[["Relative Volume",0,97,665],["Relative Range",0,92,769],["Current vs ATR",0,89,874]].forEach(([t,a,b,c])=>{
  svg.append("rect").attr("x",a+.5).attr("y",c+.5).attr("width",b-a-1).attr("height",14).attr("fill","#00ffff").attr("stroke","#000");
  svg.append("text").attr("x",a+3).attr("y",c+11.5).attr("font-size",12).attr("fill","#111").attr("textLength",b-a-6).attr("lengthAdjust","spacingAndGlyphs").text(t);
});
[["O",39],["A",665],["A",769],["A",873]].forEach(([t,c])=>{
  svg.append("rect").attr("x",1903.5).attr("y",c+.5).attr("width",13).attr("height",12).attr("rx",3).attr("fill","#f0f0f0").attr("stroke","#aaa");
  svg.append("text").attr("x",1910).attr("y",c+10.5).attr("text-anchor","middle").attr("font-size",11).attr("fill","#222").text(t);
});

// TLINE tools
svg.append("rect").attr("x",.5).attr("y",642.5).attr("width",19).attr("height",18).attr("fill","#f0f0f0").attr("stroke","#bbb");
svg.append("path").attr("d","M4 657L6 651L14 643.5L18 647L10 655Z").attr("fill","#3d556e");
svg.append("path").attr("d","M3 645V659H19").attr("fill","none").attr("stroke","#3d556e").attr("stroke-width",1);
svg.append("rect").attr("x",22.5).attr("y",641.5).attr("width",38).attr("height",21).attr("rx",2).attr("fill","#f0f0f0").attr("stroke","#bbb");
svg.append("text").attr("x",41.5).attr("y",656).attr("text-anchor","middle").attr("font-size",12.5).attr("fill","#111").text("TLINE");

// footer
svg.append("text").attr("x",51).attr("y",1014).attr("font-size",12).attr("fill","#8a8a8a").attr("textLength",744).attr("lengthAdjust","spacingAndGlyphs")
  .text("Chart by Investor/RT, Linn Software, Inc. www.linnsoft.com - SP_RelRange_RelVol: ESU8 (5m) 5 Minutes, Full Session 16:30-16:15 - 2018-06-28 11:25:04");
// logo
svg.append("text").attr("x",11).attr("y",1012).attr("font-family","'Liberation Serif',serif").attr("font-weight","bold").attr("font-size",48).attr("fill","#1c6aa0").text("R");
svg.append("path").attr("d","M26 996L33 996L43 1015L35 1015Z").attr("fill","#000");
svg.append("rect").attr("x",8).attr("y",993).attr("width",34).attr("height",5).attr("fill","#000");
svg.append("line").attr("x1",9).attr("x2",41).attr("y1",995.5).attr("y2",995.5).attr("stroke","#fff").attr("stroke-width",1.5).attr("stroke-dasharray","2 1.5");
</script></body></html>
